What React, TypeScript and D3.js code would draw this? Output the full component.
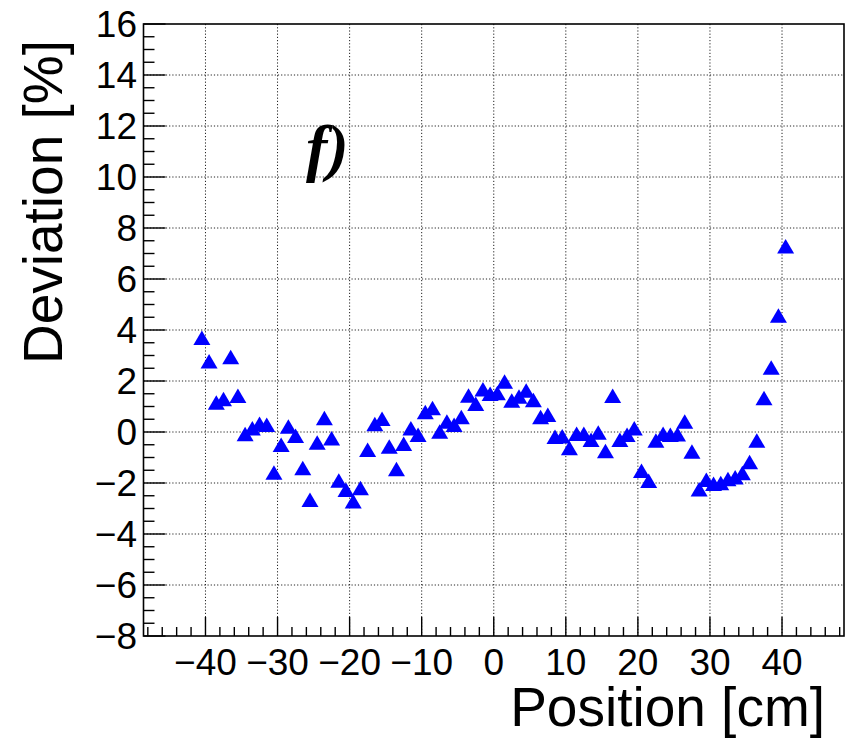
import React from "react";
import * as d3 from "d3";

const positions: number[] = [
  -40.5, -39.5, -38.5, -37.5, -36.5, -35.5, -34.5, -33.5, -32.5, -31.5,
  -30.5, -29.5, -28.5, -27.5, -26.5, -25.5, -24.5, -23.5, -22.5, -21.5,
  -20.5, -19.5, -18.5, -17.5, -16.5, -15.5, -14.5, -13.5, -12.5, -11.5,
  -10.5, -9.5, -8.5, -7.5, -6.5, -5.5, -4.5, -3.5, -2.5, -1.5,
  -0.5, 0.5, 1.5, 2.5, 3.5, 4.5, 5.5, 6.5, 7.5, 8.5,
  9.5, 10.5, 11.5, 12.5, 13.5, 14.5, 15.5, 16.5, 17.5, 18.5,
  19.5, 20.5, 21.5, 22.5, 23.5, 24.5, 25.5, 26.5, 27.5, 28.5,
  29.5, 30.5, 31.5, 32.5, 33.5, 34.5, 35.5, 36.5, 37.5, 38.5,
  39.5, 40.5,
];

const deviations: number[] = [
  3.69, 2.76, 1.15, 1.28, 2.93, 1.41, -0.09, 0.14, 0.31, 0.27,
  -1.6, -0.51, 0.21, -0.16, -1.42, -2.67, -0.42, 0.54, -0.25, -1.91,
  -2.27, -2.73, -2.21, -0.71, 0.3, 0.51, -0.58, -1.46, -0.47, 0.14,
  -0.12, 0.77, 0.93, 0.01, 0.4, 0.27, 0.58, 1.42, 1.1, 1.67,
  1.49, 1.52, 1.97, 1.23, 1.38, 1.62, 1.25, 0.58, 0.67, -0.2,
  -0.18, -0.64, -0.08, -0.08, -0.31, -0.03, -0.75, 1.41, -0.31, -0.12,
  0.14, -1.53, -1.92, -0.34, -0.08, -0.12, -0.1, 0.4, -0.77, -2.25,
  -1.88, -2.04, -2.01, -1.85, -1.78, -1.62, -1.19, -0.34, 1.32, 2.52,
  4.56, 7.27,
];

const xTicks: number[] = [-40, -30, -20, -10, 0, 10, 20, 30, 40];
const yTicks: number[] = [-8, -6, -4, -2, 0, 2, 4, 6, 8, 10, 12, 14, 16];
const xTitle = "Position [cm]";
const yTitle = "Deviation [%]";
const panelLabel = "f)";

const W = 850;
const H = 739;
const left = 143.5;
const right = 844;
const top = 24;
const bottom = 636;

const fmt = (v: number) => (v < 0 ? "\u2212" + Math.abs(v) : String(v));

export default function App() {
  const x = d3.scaleLinear().domain([-48.6, 48.6]).range([left, right]);
  const y = d3.scaleLinear().domain([-8, 16]).range([bottom, top]);

  const xMinor = d3.range(-48, 49, 2).filter((v) => v % 10 !== 0);
  const yMinor = d3.range(-8, 16.01, 0.5).filter((v) => Math.abs(v % 2) > 1e-6);

  const tri = (cx: number, cy: number) =>
    `M${cx - 8.5},${cy + 7}L${cx + 8.5},${cy + 7}L${cx},${cy - 7.5}Z`;

  const font = "'Liberation Sans', Arial, Helvetica, sans-serif";

  return (
    <svg
      width={W}
      height={H}
      viewBox={`0 0 ${W} ${H}`}
      style={{ position: "absolute", left: 0, top: 0, display: "block", background: "#fff" }}
    >
      <rect x={0} y={0} width={W} height={H} fill="#fff" />
      {/* grid */}
      <g stroke="#222" strokeWidth={1} strokeDasharray="1.2,2">
        {xTicks.map((t) => (
          <line key={"gx" + t} x1={x(t)} x2={x(t)} y1={top} y2={bottom} />
        ))}
        {yTicks
          .filter((t) => t !== -8 && t !== 16)
          .map((t) => (
            <line key={"gy" + t} x1={left} x2={right} y1={y(t)} y2={y(t)} />
          ))}
      </g>
      {/* frame */}
      <rect
        x={left}
        y={top}
        width={right - left}
        height={bottom - top}
        fill="none"
        stroke="#000"
        strokeWidth={1.6}
      />
      {/* ticks */}
      <g stroke="#000" strokeWidth={1.4}>
        {xTicks.map((t) => (
          <line key={"xt" + t} x1={x(t)} x2={x(t)} y1={bottom} y2={bottom - 19} />
        ))}
        {xMinor.map((t) => (
          <line key={"xm" + t} x1={x(t)} x2={x(t)} y1={bottom} y2={bottom - 9} />
        ))}
        {yTicks.map((t) => (
          <line key={"yt" + t} x1={left} x2={left + 22} y1={y(t)} y2={y(t)} />
        ))}
        {yMinor.map((t) => (
          <line key={"ym" + t} x1={left} x2={left + 11} y1={y(t)} y2={y(t)} />
        ))}
      </g>
      {/* tick labels */}
      <g fontFamily={font} fontSize={37} fill="#000">
        {xTicks.map((t) => (
          <text key={"xl" + t} x={x(t)} y={675} textAnchor="middle">
            {fmt(t)}
          </text>
        ))}
        {yTicks.map((t) => (
          <text key={"yl" + t} x={137} y={y(t) + 13} textAnchor="end">
            {fmt(t)}
          </text>
        ))}
      </g>
      {/* axis titles */}
      <text x={825} y={726} textAnchor="end" fontFamily={font} fontSize={55} fill="#000">
        {xTitle}
      </text>
      <text
        transform={`translate(62,40) rotate(-90)`}
        textAnchor="end"
        fontFamily={font}
        fontSize={55}
        fill="#000"
      >
        {yTitle}
      </text>
      {/* panel label */}
      <text
        x={306}
        y={169}
        fontFamily="'Liberation Serif', 'Times New Roman', serif"
        fontStyle="italic"
        fontWeight="bold"
        fontSize={64}
        fill="#000"
      >
        {panelLabel}
      </text>
      {/* markers */}
      <g fill="#0000ff">
        {positions.map((p, i) => (
          <path key={"m" + i} d={tri(x(p), y(deviations[i]))} />
        ))}
      </g>
    </svg>
  );
}
